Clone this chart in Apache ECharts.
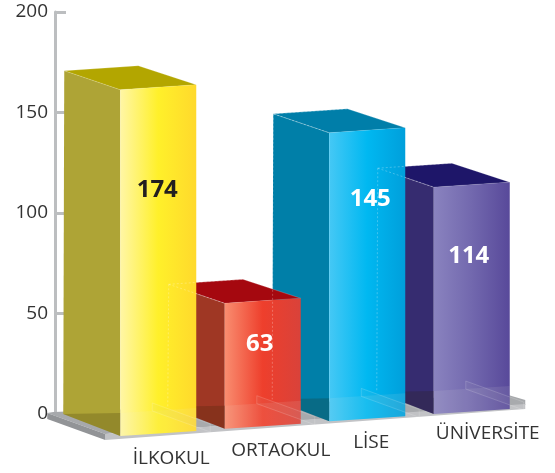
<!DOCTYPE html>
<html>
<head>
<meta charset="utf-8">
<title>Chart</title>
<script src="https://cdn.jsdelivr.net/npm/echarts@6/dist/echarts.min.js"></script>
<style>
    html, body { margin: 0; padding: 0; background: #fff; }
    #chart { width: 555px; height: 473px; }
</style>
</head>
<body>
<div id="chart"></div>
<script>
var categories = ['İLKOKUL', 'ORTAOKUL', 'LİSE', 'ÜNİVERSİTE'];
var values = [174, 63, 145, 114];
var yTicks = [0, 50, 100, 150, 200];

// bar look, one entry per category
var frontStops = [
    ['#fff6a6', '#fff02a', '#ffd92c'],
    ['#f98d70', '#ee3f2c', '#d9423a'],
    ['#45c8f5', '#00b8f1', '#009fdb'],
    ['#8a83bf', '#7268ae', '#58499a']
];
var leftColors = ['#aea436', '#9f3724', '#007fa8', '#362c70'];
var topColors = ['#b3a600', '#a5080f', '#007ea9', '#1e1669'];
var valueColors = ['#231f20', '#fff', '#fff', '#fff'];
var valueShift = [[37, 100], [35, 41], [41, 66], [35, 69]];
var nameShift = [[51, 23], [56, 22], [42, 21], [54, 20]];

var fontName = '"Open Sans", "Noto Sans", sans-serif';

function poly(pts, fill, z2, stroke) {
    return {
        type: 'polygon',
        z2: z2,
        shape: { points: pts },
        style: { fill: fill, stroke: stroke || 'none', lineWidth: stroke ? 1 : 0 }
    };
}

function dashed(p1, p2, z2) {
    return {
        type: 'line',
        z2: z2,
        shape: { x1: p1[0], y1: p1[1], x2: p2[0], y2: p2[1] },
        style: { stroke: 'rgba(255,255,255,0.25)', lineWidth: 1, lineDash: [2, 2] }
    };
}

function renderFloor(params, api) {
    var o = api.coord([0, 0]);
    var x = o[0] - 107, y = o[1] - 413;
    function p(a, b) { return [a + x, b + y]; }
    return {
        type: 'group',
        children: [
            poly([p(47, 412), p(53, 411), p(508, 394), p(525, 399), p(525, 404), p(105, 433)], '#a7a9ac', 1),
            poly([p(105, 433), p(525, 403), p(525, 408), p(105, 439)], '#c2c3c6', 2),
            poly([p(47, 412), p(105, 433), p(105, 439), p(47, 418)], '#929497', 2)
        ]
    };
}

function renderBar(params, api) {
    var i = api.value(0);
    var v = api.value(1);
    var pos = api.coord([i, 0]);
    var h = api.size([0, v])[1] * 0.99;
    // front corner of the box, the floor runs up to the right
    var fx = pos[0] + 13;
    var fb = pos[1] + 22 - (fx - 120) * 0.07;
    var ft = fb - h;
    var lb = [fx - 57, fb - 22], lt = [fx - 56, ft - 19];
    var rb = [fx + 76, fb - 5], rt = [fx + 76, ft - 5];
    var bk = [fx + 18, ft - 24];
    var z = (10 - i) * 10;
    var edge = 'rgba(255,255,255,0.2)';
    var stops = frontStops[i];
    var front = new echarts.graphic.LinearGradient(0, 0, 1, 0, [
        { offset: 0, color: stops[0] },
        { offset: 0.5, color: stops[1] },
        { offset: 1, color: stops[2] }
    ]);
    var kids = [
        poly([lt, [fx, ft], [fx, fb], lb], leftColors[i], z),
        poly([lt, bk, rt, [fx, ft]], topColors[i], z + 1, edge),
        poly([[fx, ft], rt, rb, [fx, fb]], front, z + 2),
        // see-through floor across the foot of the bar
        poly([lb, [fx, fb - 23], [fx, fb]], 'rgba(40,30,0,0.2)', z + 3),
        poly([[fx, fb - 23], [rb[0], fb - 28], rb, [fx, fb]], 'rgba(235,235,225,0.1)', z + 3),
        // notch of the floor showing through
        poly([[fx + 32, fb - 33], [fx + 90, fb - 12], [fx + 90, fb - 4], [fx + 32, fb - 25]], 'rgba(190,190,190,0.08)', 200, 'rgba(255,255,255,0.16)'),
        {
            type: 'text',
            z2: 300,
            style: {
                text: String(v),
                x: fx + valueShift[i][0],
                y: ft + valueShift[i][1],
                align: 'center',
                verticalAlign: 'middle',
                fill: valueColors[i],
                font: 'bold 24px ' + fontName
            }
        },
        {
            type: 'text',
            z2: 300,
            style: {
                text: categories[i],
                x: fx + nameShift[i][0],
                y: fb + nameShift[i][1],
                align: 'center',
                verticalAlign: 'middle',
                fill: '#333',
                font: '19px ' + fontName
            }
        }
    ];
    // outline of a bar that stands behind the previous one
    if (i > 0) {
        kids.push(dashed(lt, [fx, ft], 210));
        kids.push(dashed(lt, lb, 210));
        kids.push(dashed(lt, bk, 210));
    }
    return { type: 'group', children: kids };
}

var myChart = echarts.init(document.getElementById('chart'));
var option = {
    animation: false,
    backgroundColor: '#fff',
    grid: { left: 55, top: 12, width: 418, height: 402 },
    xAxis: {
        type: 'category',
        data: categories,
        axisLine: { show: false },
        axisTick: { show: false },
        axisLabel: { show: false }
    },
    yAxis: {
        type: 'value',
        min: yTicks[0],
        max: yTicks[yTicks.length - 1],
        interval: yTicks[1] - yTicks[0],
        splitLine: { show: false },
        axisLine: { show: true, lineStyle: { color: '#bcbec0', width: 3 } },
        axisTick: { show: true, inside: true, length: 11, lineStyle: { color: '#bcbec0', width: 3 } },
        axisLabel: { color: '#333', fontSize: 19, fontFamily: fontName, margin: 7 }
    },
    series: [{
        type: 'custom',
        z: 1,
        silent: true,
        renderItem: renderFloor,
        data: [[0, 0]]
    }, {
        type: 'custom',
        z: 3,
        silent: true,
        clip: false,
        renderItem: renderBar,
        encode: { x: 0, y: 1 },
        data: values.map(function (v, i) { return [i, v]; })
    }]
};
myChart.setOption(option);
</script>
</body>
</html>
